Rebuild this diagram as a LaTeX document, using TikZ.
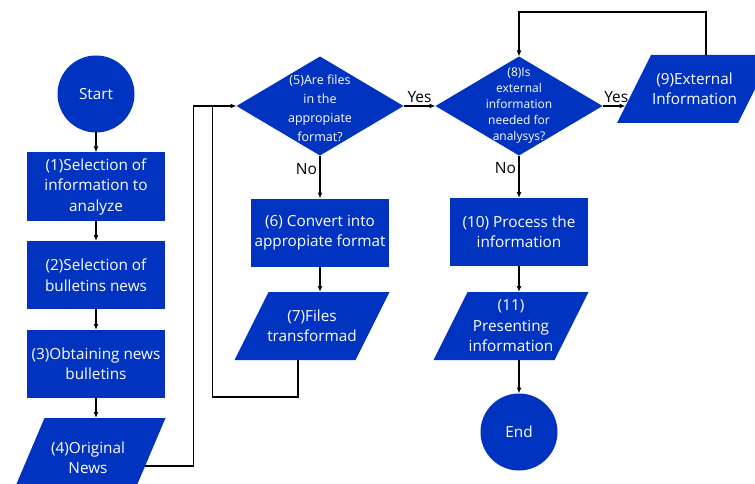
\documentclass[tikz,border=0pt]{standalone}
\usepackage{fontspec}
\setmainfont{Open Sans}
\usetikzlibrary{shapes.geometric, arrows.meta, calc, backgrounds}
\definecolor{flowblue}{RGB}{0,51,191}
\begin{document}
\begin{tikzpicture}[x=1pt, y=-1pt,
  every node/.style={inner sep=0pt, outer sep=0pt},
  blk/.style={text=white, align=center, font=\fontsize{15.3}{20.5}\selectfont},
  proc/.style={blk, fill=flowblue, rectangle, minimum width=138pt, minimum height=68pt},
  % data boxes: the node is the bounding rectangle, the slanted body is filled behind it
  io/.style={blk, rectangle, minimum width=155pt, minimum height=68pt},
  term/.style={blk, fill=flowblue, circle, minimum size=77pt},
  dec/.style={fill=flowblue, diamond, minimum width=167pt, minimum height=99pt},
  dtext/.style={text=white, align=center},
  flow/.style={line width=1.3pt, -{Latex[length=6pt,width=5pt]}},
  wire/.style={line width=1.3pt},
  lbl/.style={font=\fontsize{15.5}{17}\selectfont, text=black, inner sep=3pt}
]
\useasboundingbox (0,0) rectangle (755,484);

% left column
\node[term] (start) at (96,94) {Start};
\node[proc] (b1) at (96,186.5) {(1)Selection of\\information to\\analyze};
\node[proc] (b2) at (96,275) {(2)Selection of\\bulletins news};
\node[proc] (b3) at (96,364) {(3)Obtaining news\\bulletins};
\node[io, minimum height=80pt] (b4) at (88,458) {(4)Original\\News};

% middle column
\node[dec, label={[dtext, yshift=-2pt, font=\fontsize{12.5}{19}\selectfont]center:{(5)Are files\\in the\\appropiate\\format?}}] (d5) at (320,106) {};
\node[proc] (b6) at (320,232.5) {(6) Convert into\\appropiate format};
\node[io]   (b7) at (312,326) {(7)Files\\transformad};

% right column
\node[dec, label={[dtext, font=\fontsize{12}{16}\selectfont]center:{(8)Is\\external\\information\\needed for\\analysys?}}] (d8) at (519,106) {};
\node[io]   (b9) at (694.5,89) {(9)External\\Information};
\node[proc] (b10) at (519,232) {(10) Process the\\information};
\node[io]   (b11) at (511,326) {(11)\\Presenting\\information};
\node[term] (end) at (519,432) {End};

% slanted bodies of the data boxes
\begin{scope}[on background layer]
  \foreach \n in {b4,b7,b9,b11}
    \fill[flowblue] (\n.south west) -- ([xshift=-34pt]\n.south east)
      -- (\n.north east) -- ([xshift=34pt]\n.north west) -- cycle;
\end{scope}

% connectors, left column
\draw[flow] (start) -- (b1);
\draw[flow] (b1) -- (b2);
\draw[flow] (b2) -- (b3);
\draw[flow] (b3) -- (b3.south |- b4.north);
\draw[flow] ($(b4.east)+(-20.5,8)$) -| ([xshift=-43pt]d5.west) -- (d5.west);

% connectors, middle column
\draw[flow] (d5) -- node[lbl, left, pos=0.32] {No} (b6);
\draw[flow] (b6) -- (b6.south |- b7.north);
\draw[wire] ([xshift=-14pt]b7.south) -- ++(0,37) -| ([xshift=-24pt]d5.west);
\draw[flow] (d5) -- node[lbl, above] {Yes} (d8);

% connectors, right column
\draw[flow] (d8.east) -- node[lbl, above, pos=0.6] {Yes} ($(b9.west)+(8.5,17)$);
\draw[flow] ([xshift=11.5pt]b9.north) -- ++(0,-43) -| (d8.north);
\draw[flow] (d8) -- node[lbl, left, pos=0.3] {No} (b10);
\draw[flow] (b10) -- (b10.south |- b11.north);
\draw[flow] (end.north |- b11.south) -- (end);
\end{tikzpicture}
\end{document}
